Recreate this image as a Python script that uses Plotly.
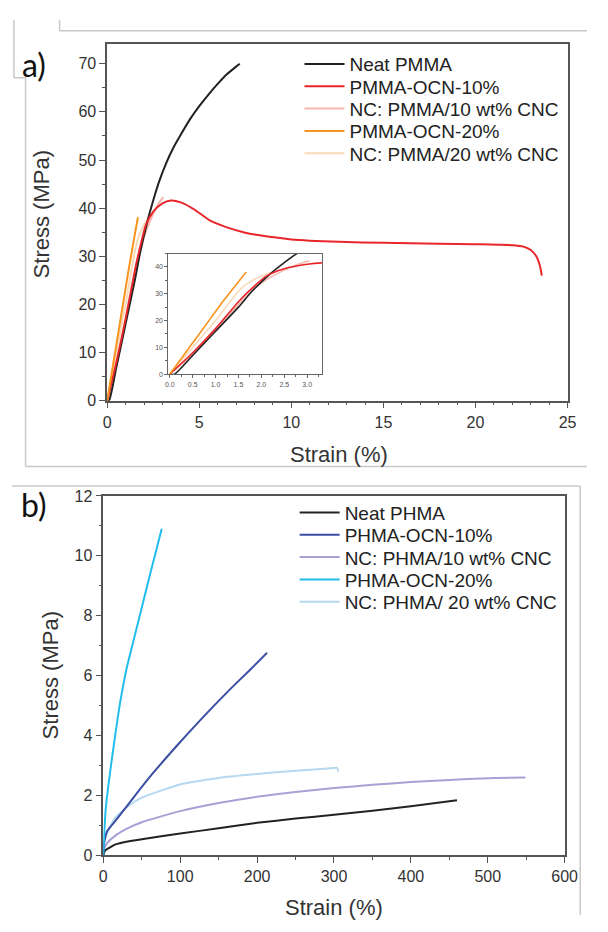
import plotly.graph_objects as go

# The page keeps the default 8px body margin; the figure fills the rest of the 608x932 page.
FIG_W, FIG_H = 592, 916
OFF = 8

# ---------------- Panel a data (PMMA) ----------------
neat_pmma_strain = [0, 0.1, 0.5, 1.0, 1.5, 1.8, 2.2, 2.5, 2.8, 3.2, 3.6, 4.0, 4.5, 5.0, 5.5, 6.0, 6.5, 7.0, 7.2]
neat_pmma_stress = [0, 0, 7, 16, 25, 31, 37.5, 41.6, 45.3, 49.3, 52.6, 55.3, 58.5, 61.2, 63.6, 65.8, 67.8, 69.4, 70]

ocn10_pmma_strain = [0, 0.5, 1.0, 1.5, 1.7, 2.1, 2.5, 3.0, 3.45, 4.0, 4.7, 5.6, 6.5, 7.5, 8.2, 10, 12.6, 15, 18, 20, 22, 22.6, 23.0, 23.3, 23.5, 23.6]
ocn10_pmma_stress = [0, 8, 17, 27, 30.5, 36.5, 39.3, 41, 41.6, 41.2, 39.8, 37.4, 36.0, 34.9, 34.4, 33.5, 33.0, 32.8, 32.6, 32.5, 32.3, 32.0, 31.3, 30.0, 28.0, 26.0]

nc10_pmma_strain = [0, 0.5, 1.0, 1.5, 2.0, 2.5, 2.8, 3.05]
nc10_pmma_stress = [0, 7.5, 16.5, 26, 34, 38.8, 41, 42.3]

ocn20_pmma_strain = [0, 0.3, 0.6, 0.9, 1.2, 1.5, 1.67]
ocn20_pmma_stress = [0, 7, 14, 21, 28, 34.5, 38.1]

nc20_pmma_strain = [0, 0.5, 1.0, 1.5, 1.8, 2.2, 2.3]
nc20_pmma_stress = [0, 10, 20, 31, 35, 37.8, 38]

# ---------------- Panel b data (PHMA) ----------------
neat_phma_strain = [0, 1, 3, 10, 16, 30, 50, 100, 150, 200, 250, 300, 350, 400, 460]
neat_phma_stress = [0, 0.08, 0.17, 0.28, 0.36, 0.45, 0.53, 0.72, 0.9, 1.08, 1.22, 1.35, 1.48, 1.63, 1.83]

ocn10_phma_strain = [0, 1, 5, 16, 40, 64, 98, 124, 145, 166, 190, 213]
ocn10_phma_stress = [0, 0.4, 0.8, 1.15, 1.95, 2.72, 3.72, 4.45, 5.02, 5.57, 6.17, 6.76]

nc10_phma_strain = [0, 1.3, 5, 16, 30, 50, 100, 150, 200, 250, 300, 350, 400, 450, 500, 549]
nc10_phma_stress = [0, 0.22, 0.4, 0.66, 0.88, 1.1, 1.47, 1.74, 1.95, 2.11, 2.24, 2.35, 2.44, 2.51, 2.57, 2.59]

ocn20_phma_strain = [0, 1, 3, 6, 10, 20, 30, 45, 60, 76]
ocn20_phma_stress = [0, 0.6, 1.5, 2.2, 3.0, 4.8, 6.2, 7.75, 9.3, 10.9]

nc20_phma_strain = [0, 1.3, 7.6, 16, 33, 50, 100, 150, 200, 250, 300, 304, 305.5]
nc20_phma_stress = [0, 0.44, 0.88, 1.26, 1.65, 1.92, 2.36, 2.58, 2.71, 2.82, 2.91, 2.92, 2.79]

legend_a = ["Neat PMMA", "PMMA-OCN-10%", "NC: PMMA/10 wt% CNC", "PMMA-OCN-20%", "NC: PMMA/20 wt% CNC"]
legend_b = ["Neat PHMA", "PHMA-OCN-10%", "NC: PHMA/10 wt% CNC", "PHMA-OCN-20%", "NC: PHMA/ 20 wt% CNC"]

colors_a = ["#222222", "#e8262a", "#f5b7ae", "#f7941d", "#fbd9b9"]
colors_b = ["#222222", "#3b4ea3", "#a9a0d6", "#22bdee", "#b5d8f0"]

series_a = [(neat_pmma_strain, neat_pmma_stress), (ocn10_pmma_strain, ocn10_pmma_stress),
            (nc10_pmma_strain, nc10_pmma_stress), (ocn20_pmma_strain, ocn20_pmma_stress),
            (nc20_pmma_strain, nc20_pmma_stress)]
series_b = [(neat_phma_strain, neat_phma_stress), (ocn10_phma_strain, ocn10_phma_stress),
            (nc10_phma_strain, nc10_phma_stress), (ocn20_phma_strain, ocn20_phma_stress),
            (nc20_phma_strain, nc20_phma_stress)]


def px(x):
    return (x - OFF) / FIG_W


def py(y):
    return 1 - (y - OFF) / FIG_H


FONT = "Liberation Sans, Arial, sans-serif"
fig = go.Figure()

# one legend box per entry so the rows can sit at the reference spacing
leg_names_a = ["legend"] + ["legend%d" % k for k in range(2, 6)]
leg_names_b = ["legend%d" % k for k in range(6, 11)]

order_a = [2, 4, 0, 1, 3]  # light curves underneath
for i in order_a:
    xs, ys = series_a[i]
    fig.add_trace(go.Scatter(x=xs, y=ys, mode="lines", name=legend_a[i],
                             line=dict(color=colors_a[i], width=2, shape="spline", smoothing=0.6),
                             xaxis="x", yaxis="y", legend=leg_names_a[i]))
for i in order_a:
    xs, ys = series_a[i]
    fig.add_trace(go.Scatter(x=xs, y=ys, mode="lines", name=legend_a[i], showlegend=False,
                             line=dict(color=colors_a[i], width=1.6, shape="spline", smoothing=0.6),
                             xaxis="x2", yaxis="y2"))
order_b = [4, 2, 0, 1, 3]
for i in order_b:
    xs, ys = series_b[i]
    fig.add_trace(go.Scatter(x=xs, y=ys, mode="lines", name=legend_b[i],
                             line=dict(color=colors_b[i], width=2, shape="spline", smoothing=0.5),
                             xaxis="x3", yaxis="y3", legend=leg_names_b[i]))

axis_common = dict(showline=True, linecolor="#555555", linewidth=1.5, mirror=True,
                   ticks="outside", ticklen=6, tickwidth=1.3, tickcolor="#555555",
                   showgrid=False, zeroline=False,
                   tickfont=dict(family=FONT, size=16, color="#333333"))
minor_common = dict(ticks="outside", ticklen=3, tickwidth=1.2, tickcolor="#555555", showgrid=False)
inset_common = dict(showline=True, linecolor="#666666", linewidth=1, mirror=True,
                    ticks="outside", ticklen=3, tickwidth=1, tickcolor="#666666",
                    showgrid=False, zeroline=False,
                    tickfont=dict(family=FONT, size=7, color="#555555"))
inset_minor = dict(ticks="outside", ticklen=2, tickwidth=1, tickcolor="#666666")

layout = dict(
    width=FIG_W, height=FIG_H, margin=dict(l=0, r=0, t=0, b=0),
    paper_bgcolor="white", plot_bgcolor="white", showlegend=True,
    xaxis=dict(domain=[px(106), px(580)], range=[0, 25], tick0=0, dtick=5,
               minor=dict(dtick=1, **minor_common), anchor="y", **axis_common),
    yaxis=dict(domain=[py(400), py(37)], range=[0, 74], tick0=0, dtick=10,
               minor=dict(dtick=5, **minor_common), anchor="x", **axis_common),
    xaxis2=dict(domain=[px(169), px(327)], range=[-0.03, 3.32], tick0=0, dtick=0.5, tickformat=".1f",
                anchor="y2", minor=dict(dtick=0.25, **inset_minor), **inset_common),
    yaxis2=dict(domain=[py(373), py(250)], range=[0, 45], tick0=0, dtick=10,
                anchor="x2", minor=dict(dtick=5, **inset_minor), **inset_common),
    xaxis3=dict(domain=[px(102), px(577)], range=[0, 600], tick0=0, dtick=100,
                minor=dict(dtick=50, **minor_common), anchor="y3", **axis_common),
    yaxis3=dict(domain=[py(863), py(497)], range=[0, 12], tick0=0, dtick=2,
                minor=dict(dtick=1, **minor_common), anchor="x3", **axis_common),
)

leg_style = dict(xanchor="left", yanchor="middle", bgcolor="rgba(0,0,0,0)",
                 font=dict(family=FONT, size=19, color="#222222"), itemwidth=40,
                 borderwidth=0)
for k, name in enumerate(leg_names_a):
    layout[name] = dict(x=px(304), y=py(57 + 22.75 * k), **leg_style)
for k, name in enumerate(leg_names_b):
    layout[name] = dict(x=px(299), y=py(514 + 22.75 * k), **leg_style)

fig.update_layout(**layout)

annots = [
    dict(text="a)", x=px(31), y=py(57), font=dict(family="Lato, sans-serif", size=32, color="#111111")),
    dict(text="b)", x=px(31), y=py(506), font=dict(family="Lato, sans-serif", size=32, color="#111111")),
    dict(text="Stress (MPa)", x=px(38), y=py(210), textangle=-90, font=dict(family=FONT, size=22, color="#333333")),
    dict(text="Strain (%)", x=px(345), y=py(455), font=dict(family=FONT, size=22, color="#333333")),
    dict(text="Stress (MPa)", x=px(48), y=py(680), textangle=-90, font=dict(family=FONT, size=22, color="#333333")),
    dict(text="Strain (%)", x=px(340), y=py(916), font=dict(family=FONT, size=22, color="#333333")),
]
for a in annots:
    fig.add_annotation(xref="paper", yref="paper", showarrow=False, xanchor="center", yanchor="middle", **a)

# screenshot-frame decorative lines
gray = dict(color="#c8c8c8", width=1.5)
segments = [
    (57, 12, 57, 23), (57, 23, 600, 23),
    (10, 12, 10, 71), (10, 71, 22, 71), (22, 71, 22, 467), (22, 467, 600, 467),
    (8, 487, 593, 487), (593, 487, 593, 924),
]
for x0, y0, x1, y1 in segments:
    fig.add_shape(type="line", xref="paper", yref="paper", x0=px(x0), y0=py(y0), x1=px(x1), y1=py(y1), line=gray)

fig.write_html("out.html")
